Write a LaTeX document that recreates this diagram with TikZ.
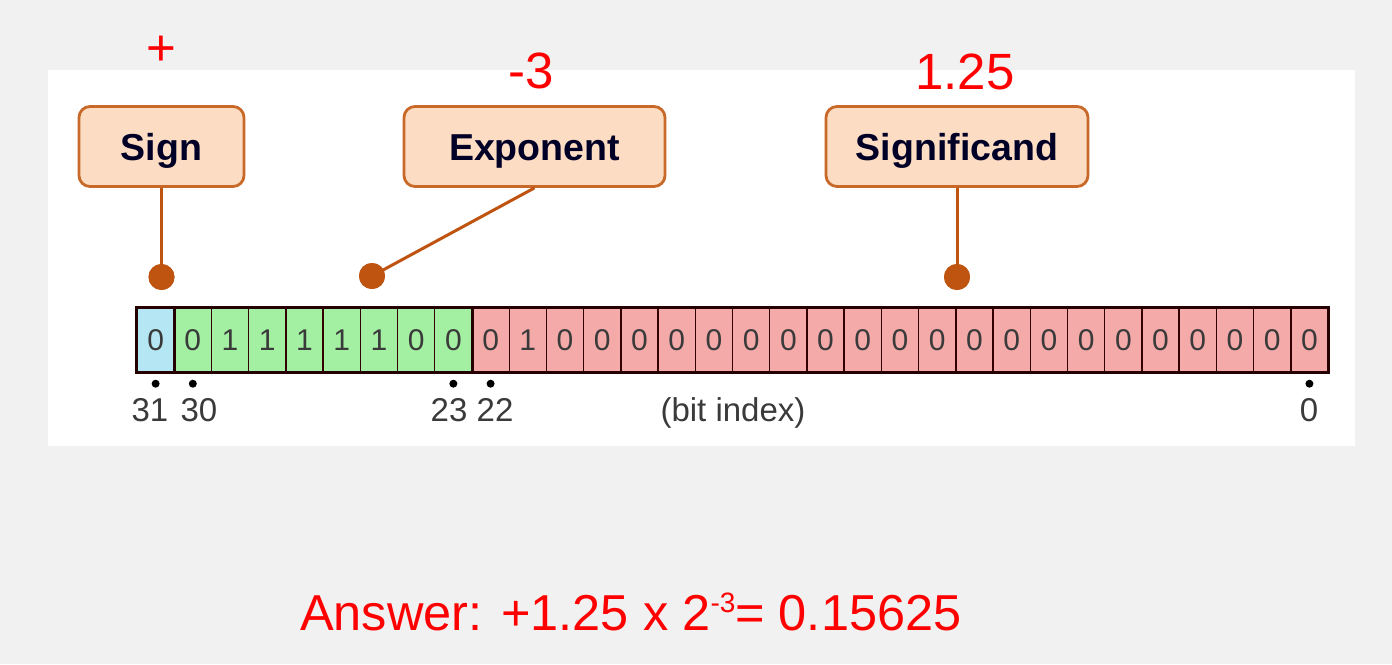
\documentclass[tikz,border=0pt]{standalone}
\usepackage{fontspec}
\setmainfont{Liberation Sans}
\newfontfamily\redfont{Liberation Sans}
\definecolor{bgray}{HTML}{F1F1F1}
\definecolor{boxfill}{HTML}{FCDCC2}
\definecolor{boxborder}{HTML}{C8692A}
\definecolor{pindot}{HTML}{BF5410}
\definecolor{signc}{HTML}{B5E6F4}
\definecolor{expc}{HTML}{A3F0A3}
\definecolor{manc}{HTML}{F5AAAA}
\definecolor{txtgray}{HTML}{3A3A3A}
\definecolor{lblred}{HTML}{FF0000}
\begin{document}
\begin{tikzpicture}[x=1pt,y=-1pt,
  lblbox/.style={draw=boxborder, fill=boxfill, line width=2.8pt, rounded corners=11pt,
    minimum height=80pt, inner sep=0pt, text=black!85!blue, text height=27pt, text depth=0pt,
    font=\bfseries\fontsize{37.5}{40}\selectfont},
  pin/.style={circle, fill=pindot, inner sep=0pt, minimum size=26pt},
  conn/.style={draw=pindot, line width=3pt},
  cell/.style={draw=black!80!red, line width=1.4pt, minimum width=37.22pt, minimum height=64pt,
    inner sep=0pt, text=txtgray, font=\fontsize{30}{31}\selectfont},
  tick/.style={circle, fill=black, inner sep=0pt, minimum size=8pt},
  idx/.style={anchor=base, text=txtgray, font=\fontsize{33}{35}\selectfont},
  redlbl/.style={text=lblred, font=\redfont\fontsize{51}{54}\selectfont}]
\useasboundingbox (0,0) rectangle (1392,664);
\fill[bgray] (0,0) rectangle (1392,664);
\fill[white] (48,70) rectangle (1355,446);

% label boxes
\node[lblbox, minimum width=165pt] (sign) at (161.5,146.5) {Sign};
\node[lblbox, minimum width=261pt] (expo) at (534.5,146.5) {Exponent};
\node[lblbox, minimum width=262pt] (signif) at (957,146.5) {Significand};

% red values
\node[redlbl] (vsign) at (161,51) {+};
\node[redlbl] (vexp) at (531,71) {-3};
\node[redlbl] (vsig) at (965,72) {1.25};

% pins and connectors
\node[pin] (pinS) at (161.5,277) {};
\node[pin] (pinE) at (372,276) {};
\node[pin] (pinM) at (957,277) {};
\draw[conn] (sign.south) -- (pinS.center);
\draw[conn] (expo.south) -- (pinE.center);
\draw[conn] (signif.south) -- (pinM.center);
\node[pin] at (pinS) {};
\node[pin] at (pinE) {};
\node[pin] at (pinM) {};

% bit cells
\node[cell, fill=signc] (c0) at ({137+37.22*0.5},340) {0};
\foreach \b [count=\k from 1] in {0,1,1,1,1,1,0,0}
  \node[cell, fill=expc] (c\k) at ({137+37.22*(\k+0.5)},340) {\b};
\foreach \b [count=\k from 9] in {0,1,0,0,0,0,0,0,0,0,0,0,0,0,0,0,0,0,0,0,0,0,0}
  \node[cell, fill=manc] (c\k) at ({137+37.22*(\k+0.5)},340) {\b};
\draw[black!85!red, line width=3pt] (c0.north west) rectangle (c31.south east);
\draw[black!85!red, line width=3pt] (c0.north east) -- (c0.south east);
\draw[black!85!red, line width=3pt] (c8.north east) -- (c8.south east);

% index ticks and labels
\node[tick] (t31) at ([yshift=-11pt]c0.south) {};
\node[tick] (t30) at ([yshift=-11pt]c1.south) {};
\node[tick] (t23) at ([yshift=-11pt]c8.south) {};
\node[tick] (t22) at ([yshift=-11pt]c9.south) {};
\node[tick] (t0) at ([yshift=-11pt]c31.south) {};
\node[idx] (l31) at (150,421) {31};
\node[idx] (l30) at (199,421) {30};
\node[idx] (l23) at (449,421) {23};
\node[idx] (l22) at (495,421) {22};
\node[idx] (lbi) at (733,421) {(bit index)};
\node[idx] (l0) at (1309,421) {0};

% answer
\node[anchor=base west, inner sep=0pt, text=lblred, font=\redfont\fontsize{50.5}{54}\selectfont] (ans) at (300,630)
  {Answer: +1.25 x 2\raisebox{18pt}{\fontsize{28}{30}\selectfont -3}= 0.15625};
\end{tikzpicture}
\end{document}
